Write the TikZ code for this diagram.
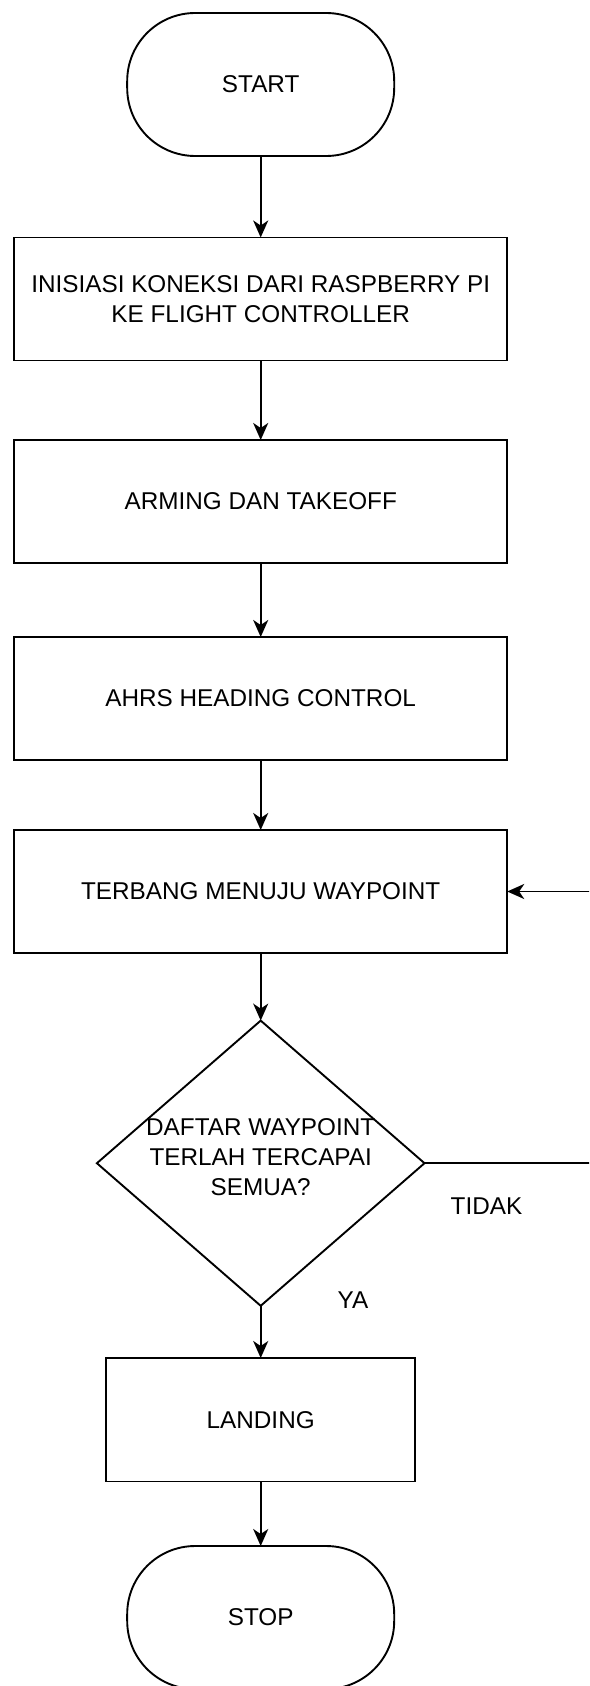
\documentclass[tikz,border=0pt]{standalone}
\usepackage{fontspec}
\setmainfont{Liberation Sans}
\usetikzlibrary{positioning,shapes.geometric,arrows.meta}

\begin{document}
\begin{tikzpicture}[
                font=\fontsize{12.15}{14.8}\selectfont,
                line width=0.95pt,
                every node/.style={outer sep=0pt,inner sep=0pt},
                terminal/.style={draw,rectangle,rounded corners=34pt,minimum width=133.5pt,minimum height=71.5pt},
                proses/.style={draw,rectangle,minimum width=246.5pt,minimum height=61.5pt,align=center},
                keputusan/.style={draw,diamond,minimum width=163.8pt,minimum height=142.6pt},
                panah/.style={-{Stealth[length=8.5pt,width=7.5pt,inset=2.5pt]}}
            ]
                \clip (-130.35pt,42.25pt) rectangle (164.15pt,-800.75pt);
                \node [terminal] (start) {START};
                \node [proses,below=40.75pt of start] (inisiasi) {INISIASI KONEKSI DARI RASPBERRY PI\\KE FLIGHT CONTROLLER};
                \node [proses,below=39.75pt of inisiasi] (arming) {ARMING DAN TAKEOFF};
                \node [proses,below=37pt of arming] (ahrs) {AHRS HEADING CONTROL};
                \node [proses,below=35pt of ahrs] (terbang) {TERBANG MENUJU WAYPOINT};
                \node [keputusan,below=33.8pt of terbang] (dec) {};
                \node [align=center] (dectext) at ([yshift=3pt]dec.center) {DAFTAR WAYPOINT\\TERLAH TERCAPAI\\SEMUA?};
                \node [proses,minimum width=154.35pt,minimum height=61.75pt,below=26.1pt of dec] (landing) {LANDING};
                \node [terminal,below=32.25pt of landing] (stop) {STOP};
                % alur utama
                \foreach \a/\b in {start/inisiasi,inisiasi/arming,arming/ahrs,ahrs/terbang,terbang/dec,dec/landing,landing/stop} {
                    \draw [panah] (\a.south) -- (\b.north);
                }
                % kembali ke waypoint berikutnya
                \coordinate [right=100pt of dec.east] (luar);
                \draw [panah] (dec.east) -- (luar) |- (terbang.east);
                \node (tidak) at ([xshift=31pt,yshift=-21.35pt]dec.east) {TIDAK};
                \node (ya) at ([xshift=46.15pt,yshift=2.6pt]dec.south) {YA};
            \end{tikzpicture}
\end{document}
